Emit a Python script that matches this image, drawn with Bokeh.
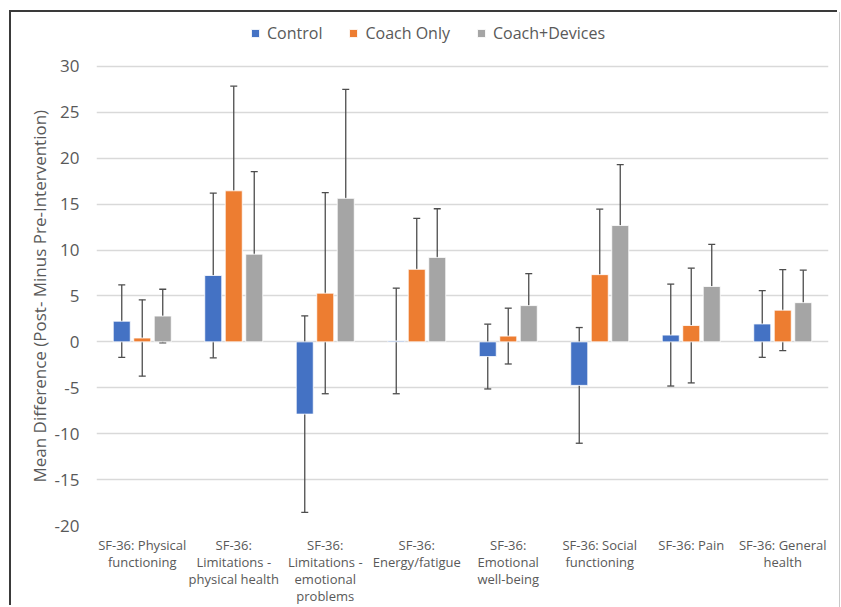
from bokeh.plotting import figure
from bokeh.models import (ColumnDataSource, Whisker, TeeHead, Legend, LegendItem,
                          Range1d, FactorRange, FixedTicker, Title)
from bokeh.transform import dodge
from bokeh.embed import file_html
from bokeh.resources import INLINE

categories = [
    "SF-36: Physical\nfunctioning",
    "SF-36:\nLimitations -\nphysical health",
    "SF-36:\nLimitations -\nemotional\nproblems",
    "SF-36:\nEnergy/fatigue",
    "SF-36:\nEmotional\nwell-being",
    "SF-36: Social\nfunctioning",
    "SF-36: Pain",
    "SF-36: General\nhealth",
]
series_names = ["Control", "Coach Only", "Coach+Devices"]
control = [2.25, 7.23, -7.87, 0.1, -1.6, -4.74, 0.74, 1.95]
control_err = [3.95, 8.97, 10.7, 5.75, 3.53, 6.3, 5.55, 3.63]
coach_only = [0.42, 16.45, 5.3, 7.9, 0.63, 7.32, 1.78, 3.45]
coach_only_err = [4.16, 11.4, 10.95, 5.55, 3.04, 7.13, 6.25, 4.41]
coach_devices = [2.81, 9.55, 15.63, 9.2, 3.95, 12.67, 6.03, 4.27]
coach_devices_err = [2.92, 9.0, 11.86, 5.3, 3.48, 6.64, 4.58, 3.54]
y_ticks = [-20, -15, -10, -5, 0, 5, 10, 15, 20, 25, 30]
y_tick_labels = ["-20", "-15", "-10", "-5", "0", "5", "10", "15", "20", "25", "30"]
y_title = "Mean Difference (Post- Minus Pre-Intervention)"

colors = ["#4472C4", "#ED7D31", "#A5A5A5"]
offsets = [-0.224, 0.0, 0.224]
TEXT = "#595959"
FONT = "Open Sans"

data = dict(cat=categories)
for key, vals, errs in [("c0", control, control_err),
                        ("c1", coach_only, coach_only_err),
                        ("c2", coach_devices, coach_devices_err)]:
    data[key] = vals
    data[key + "_up"] = [v + e for v, e in zip(vals, errs)]
    data[key + "_lo"] = [v - e for v, e in zip(vals, errs)]
src = ColumnDataSource(data)

# y range extends above 30 to leave room for the legend inside the plot area
p = figure(frame_width=732, frame_height=505, x_range=FactorRange(*categories),
           y_range=Range1d(-20, 35), output_backend="svg", toolbar_location=None,
           min_border_left=85, min_border_right=11, min_border_top=8,
           min_border_bottom=82)
p.styles = {"margin-left": "11px", "margin-top": "12px",
            "box-shadow": "-2px -2px 0 0 #3a3a3a, 1px 0 0 0 #c8c8c8"}
p.outline_line_color = None
p.background_fill_color = "white"
p.border_fill_color = "white"

p.xgrid.grid_line_color = None
p.ygrid.grid_line_color = "#D9D9D9"
p.ygrid.grid_line_width = 1.3
p.yaxis.ticker = FixedTicker(ticks=y_ticks)
p.yaxis.major_label_overrides = {t: s for t, s in zip(y_ticks, y_tick_labels)}

for ax in (p.xaxis, p.yaxis):
    ax.axis_line_color = None
    ax.major_tick_line_color = None
    ax.minor_tick_line_color = None
    ax.major_tick_out = 0
    ax.major_tick_in = 0
    ax.minor_tick_out = 0
    ax.minor_tick_in = 0
    ax.major_label_text_color = TEXT
    ax.major_label_text_font = FONT
p.yaxis.major_label_text_font_size = "17px"
p.yaxis.major_label_standoff = 17
p.xaxis.major_label_text_font_size = "13px"
p.xaxis.major_label_text_line_height = 0.95
p.xaxis.major_label_standoff = 10

# y-axis title centred on the 30..-20 grid rather than on the whole plot area
ytitle = Title(text=y_title, align="left", offset=43, standoff=2,
               text_font=FONT, text_font_size="17px", text_font_style="normal",
               text_color=TEXT)
p.add_layout(ytitle, "left")

renderers = []
for i, key in enumerate(["c0", "c1", "c2"]):
    r = p.vbar(x=dodge("cat", offsets[i], range=p.x_range), top=key, bottom=0,
               width=0.186, source=src, fill_color=colors[i], line_color="white",
               line_width=0.8)
    renderers.append(r)

for i, key in enumerate(["c0", "c1", "c2"]):
    w = Whisker(base=dodge("cat", offsets[i], range=p.x_range), upper=key + "_up",
                lower=key + "_lo", source=src, dimension="height",
                line_color="#4d4d4d", line_width=1.3,
                upper_head=TeeHead(size=7, line_color="#4d4d4d", line_width=1.3),
                lower_head=TeeHead(size=7, line_color="#4d4d4d", line_width=1.3))
    p.add_layout(w)

legend = Legend(items=[LegendItem(label=n, renderers=[r]) for n, r in zip(series_names, renderers)],
                orientation="horizontal", location=(154, 481),
                label_text_font=FONT, label_text_font_size="16px", label_text_color=TEXT,
                glyph_width=10, glyph_height=10, label_standoff=7, spacing=26,
                border_line_color=None, background_fill_alpha=0, padding=0, margin=0)
p.add_layout(legend)

open("out.html", "w").write(file_html(p, INLINE))
